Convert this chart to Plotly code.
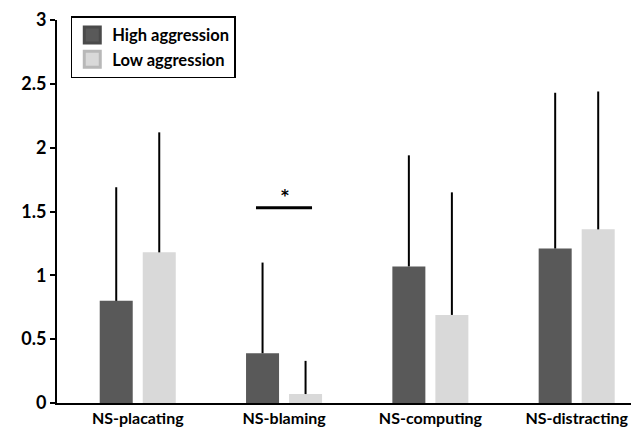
import plotly.graph_objects as go

categories = ["NS-placating", "NS-blaming", "NS-computing", "NS-distracting"]
high_mean = [0.80, 0.39, 1.07, 1.21]
high_sd = [0.89, 0.71, 0.87, 1.22]
low_mean = [1.18, 0.07, 0.69, 1.36]
low_sd = [0.94, 0.26, 0.96, 1.08]
series_names = ["High aggression", "Low aggression"]
y_ticks = [0, 0.5, 1, 1.5, 2, 2.5, 3]
y_tick_labels = ["0", "0.5", "1", "1.5", "2", "2.5", "3"]
sig_label = "*"
sig_y = 1.53

FONT = "Lato"
BW = 0.2256
HIGH_COLOR = "#595959"
LOW_COLOR = "#d9d9d9"

fig = go.Figure()
fig.add_trace(go.Bar(
    x=categories, y=high_mean, name=series_names[0], legendgroup="high", showlegend=False,
    marker=dict(color=HIGH_COLOR, line=dict(width=0)),
    width=BW, offset=-0.260,
    error_y=dict(type="data", array=high_sd, arrayminus=[0]*4, symmetric=False,
                 color="black", thickness=2, width=0),
))
fig.add_trace(go.Bar(
    x=categories, y=low_mean, name=series_names[1], legendgroup="low", showlegend=False,
    marker=dict(color=LOW_COLOR, line=dict(width=0)),
    width=BW, offset=0.034,
    error_y=dict(type="data", array=low_sd, arrayminus=[0]*4, symmetric=False,
                 color="black", thickness=2, width=0),
))
# legend entries (square swatches like the original)
fig.add_trace(go.Scatter(
    x=[None], y=[None], mode="markers", name=series_names[0], legendgroup="high",
    marker=dict(symbol="square", size=16, color=HIGH_COLOR, line=dict(color="#4a4a4a", width=3)),
))
fig.add_trace(go.Scatter(
    x=[None], y=[None], mode="markers", name=series_names[1], legendgroup="low",
    marker=dict(symbol="square", size=16, color=LOW_COLOR, line=dict(color="#b8b8b8", width=3)),
))

# significance marker over NS-blaming
fig.add_shape(type="line", xref="x", yref="y", x0=0.808, x1=1.191, y0=sig_y, y1=sig_y,
              line=dict(color="black", width=3))
fig.add_annotation(x=1.005, y=sig_y, xref="x", yref="y", text=sig_label, showarrow=False,
                   yshift=12, font=dict(family="DejaVu Sans", size=15, color="black", weight="bold"))

fig.update_layout(
    width=631, height=429,
    margin=dict(l=57, r=0, t=20, b=26),
    paper_bgcolor="white", plot_bgcolor="white",
    font=dict(family=FONT, color="black", weight="bold"),
    barmode="group",
    showlegend=True,
    legend=dict(
        x=0.024, y=1.01, xanchor="left", yanchor="top",
        bordercolor="black", borderwidth=1.5, bgcolor="white",
        font=dict(family=FONT, size=16.5, color="black", weight="bold"),
        itemsizing="trace", itemwidth=30, tracegroupgap=0,
    ),
    xaxis=dict(
        type="category", range=[-0.552, 3.371],
        showline=True, linecolor="black", linewidth=2,
        ticks="", showgrid=False, zeroline=False,
        tickfont=dict(family=FONT, size=16, color="black", weight="bold"),
        automargin=False, fixedrange=True,
    ),
    yaxis=dict(
        range=[0, 3], tickvals=y_ticks, ticktext=y_tick_labels,
        showline=True, linecolor="black", linewidth=2,
        ticks="outside", ticklen=5, tickwidth=2, tickcolor="black",
        showgrid=False, zeroline=False,
        tickfont=dict(family=FONT, size=18, color="black", weight="bold"),
        automargin=False, fixedrange=True,
    ),
)

fig.write_html("out.html", config={"displayModeBar": False},
               post_script="document.body.style.margin='0px';document.body.style.overflow='hidden';")
